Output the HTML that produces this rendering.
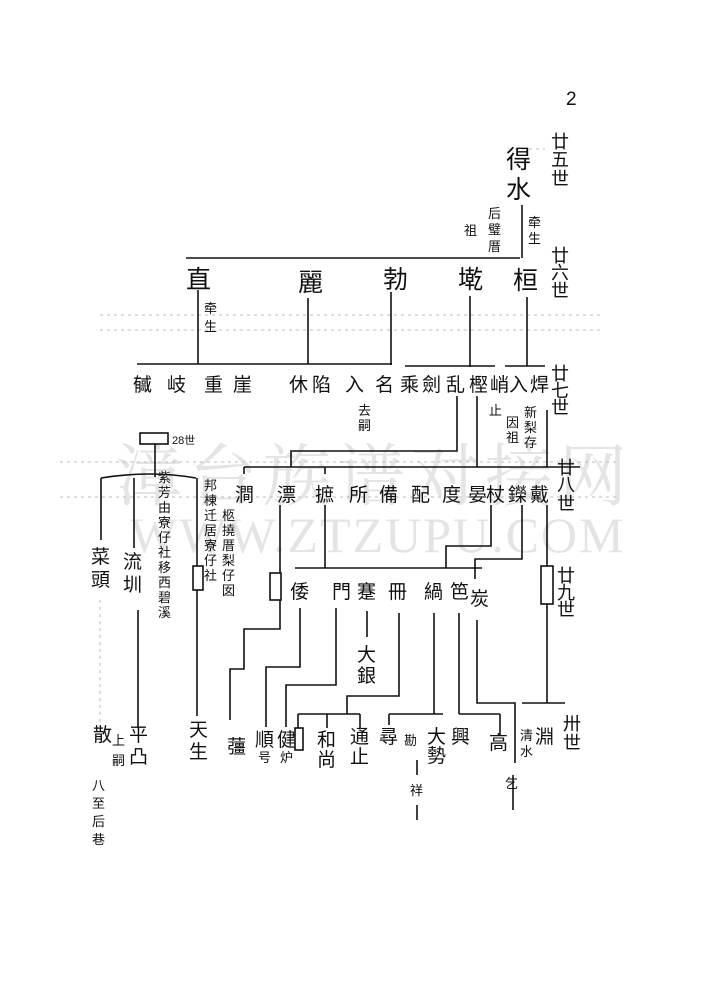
<!DOCTYPE html>
<html><head><meta charset="utf-8"><style>
html,body{margin:0;padding:0;background:#fff;}
svg{display:block;}
text{font-family:"Liberation Sans","Noto Sans CJK SC",sans-serif;fill:#111;}
.b{font-size:25px;}
.s{font-size:13px;}
.m{font-size:19px;}
.g{font-size:18px;}
.wm{fill:#e4e4e4;font-family:"Liberation Serif","Noto Serif CJK SC",serif;}
</style></head><body>
<svg width="703" height="1000" viewBox="0 0 703 1000" xmlns="http://www.w3.org/2000/svg">
<text class="wm" x="115" y="500" font-size="68" letter-spacing="6">漳台族谱对接网</text>
<text class="wm" x="130" y="552" font-size="50" letter-spacing="2">WWW.ZTZUPU.COM</text>

<g stroke="#bbb" stroke-width="1" stroke-dasharray="3,4" fill="none">
<line x1="100" y1="315" x2="600" y2="315"/>
<line x1="100" y1="330" x2="600" y2="330"/>
<line x1="60" y1="462" x2="620" y2="462"/>
<line x1="60" y1="497" x2="620" y2="497"/>
<line x1="508" y1="149" x2="545" y2="149"/>
<line x1="100" y1="600" x2="100" y2="725"/>
</g>

<g stroke="#111" stroke-width="1.6" fill="none">
<line x1="522" y1="205" x2="522" y2="258"/>
<line x1="186" y1="258" x2="520" y2="258"/>
<line x1="198" y1="290" x2="198" y2="364"/>
<line x1="308" y1="298" x2="308" y2="364"/>
<line x1="391" y1="292" x2="391" y2="365"/>
<line x1="470" y1="296" x2="470" y2="367"/>
<line x1="527" y1="297" x2="527" y2="366"/>
<line x1="137" y1="364" x2="392" y2="364"/>
<line x1="405" y1="366" x2="495" y2="366"/>
<line x1="505" y1="366" x2="545" y2="366"/>
<polyline points="457,396 457,451 291,451 291,467"/>
<line x1="477" y1="396" x2="477" y2="467"/>
<line x1="547" y1="410" x2="547" y2="467"/>
<line x1="244" y1="467" x2="580" y2="467"/>
<line x1="244" y1="467" x2="244" y2="474"/>
<line x1="325" y1="467" x2="325" y2="474"/>
<rect x="140" y="433" width="28" height="11"/>
<line x1="155" y1="444" x2="155" y2="477"/>
<path d="M101,478 Q150,470 196,478"/>
<line x1="101" y1="478" x2="101" y2="540"/>
<line x1="134" y1="478" x2="134" y2="548"/>
<line x1="138" y1="610" x2="138" y2="727"/>
<line x1="197" y1="478" x2="197" y2="716"/>
<rect x="193" y="566" width="10" height="24" fill="#fff"/>
<line x1="325" y1="505" x2="325" y2="568"/>
<line x1="295" y1="568" x2="482" y2="568"/>
<polyline points="491,505 491,546 446,546 446,568"/>
<polyline points="522,505 522,559 475,559 475,579"/>
<polyline points="280,505 280,573"/>
<rect x="270" y="573" width="11" height="27"/>
<polyline points="280,600 280,629 244,629 244,669 230,669 230,720"/>
<polyline points="300,608 300,667 266,667 266,727"/>
<polyline points="336,608 336,685 286,685 286,727"/>
<line x1="367" y1="611" x2="367" y2="637"/>
<polyline points="399,613 399,696 347,696 347,714"/>
<line x1="298" y1="714" x2="360" y2="714"/>
<line x1="298" y1="714" x2="298" y2="728"/>
<line x1="327" y1="714" x2="327" y2="728"/>
<line x1="360" y1="714" x2="360" y2="728"/>
<rect x="295" y="728" width="8" height="22"/>
<line x1="434" y1="613" x2="434" y2="714"/>
<line x1="389" y1="714" x2="443" y2="714"/>
<line x1="389" y1="714" x2="389" y2="725"/>
<line x1="459" y1="613" x2="459" y2="714"/>
<line x1="459" y1="714" x2="500" y2="714"/>
<line x1="500" y1="714" x2="500" y2="735"/>
<polyline points="477,620 477,703 515,703 515,763"/>
<line x1="513" y1="775" x2="513" y2="810"/>
<line x1="417" y1="760" x2="417" y2="775"/>
<line x1="417" y1="805" x2="417" y2="820"/>
<line x1="547" y1="505" x2="547" y2="566"/>
<rect x="541" y="566" width="12" height="38"/>
<line x1="547" y1="604" x2="547" y2="703"/>
<line x1="522" y1="703" x2="565" y2="703"/>
</g>

<text x="566" y="105" class="m">2</text>

<g class="g">
<text x="551" y="148">廿</text><text x="551" y="166">五</text><text x="551" y="185">世</text>
<text x="551" y="262">廿</text><text x="551" y="279">六</text><text x="551" y="297">世</text>
<text x="551" y="380">廿</text><text x="551" y="397">七</text><text x="551" y="414">世</text>
<text x="557" y="474">廿</text><text x="557" y="491">八</text><text x="557" y="510">世</text>
<text x="557" y="582">廿</text><text x="557" y="599">九</text><text x="557" y="616">世</text>
<text x="563" y="730">卅</text><text x="563" y="749">世</text>
</g>

<text class="b" x="506" y="168">得</text>
<text class="b" x="506" y="198">水</text>
<g class="s">
<text x="528" y="227">牵</text><text x="528" y="243">生</text>
<text x="488" y="218">后</text><text x="488" y="234">璧</text><text x="488" y="251">厝</text>
<text x="464" y="235">祖</text>
</g>

<g class="b">
<text x="186" y="288">直</text>
<text x="298" y="291">麗</text>
<text x="383" y="288">勃</text>
<text x="458" y="288">墘</text>
<text x="513" y="289">桓</text>
</g>
<g class="s"><text x="204" y="313">牵</text><text x="204" y="331">生</text></g>

<g class="m">
<text x="133" y="391">㦽</text><text x="167" y="391">岐</text><text x="204" y="391">重</text><text x="233" y="391">崖</text>
<text x="289" y="391">休</text><text x="312" y="391">陷</text><text x="345" y="391">入</text><text x="375" y="391">名</text>
<text x="400" y="391">乘</text><text x="422" y="391">劍</text><text x="446" y="391">乱</text><text x="469" y="391">樫</text>
<text x="490" y="391">峭</text><text x="509" y="391">入</text><text x="530" y="391">焊</text>
</g>
<g class="s">
<text x="358" y="415">去</text><text x="358" y="430">嗣</text>
<text x="489" y="415">止</text>
<text x="506" y="427">因</text><text x="506" y="442">祖</text>
<text x="524" y="417">新</text><text x="524" y="432">梨</text><text x="524" y="447">存</text>
<text x="172" y="444" font-size="11">28世</text>
</g>

<g class="m">
<text x="235" y="501">澗</text><text x="277" y="501">漂</text><text x="315" y="501">摭</text><text x="349" y="501">所</text>
<text x="379" y="501">備</text><text x="411" y="501">配</text><text x="442" y="501">度</text><text x="468" y="501">晏</text>
<text x="486" y="501">杖</text><text x="508" y="501">鑅</text><text x="530" y="501">戴</text>
</g>
<g class="s">
<text x="158" y="482">紫</text><text x="158" y="497">芳</text><text x="158" y="512">由</text><text x="158" y="527">寮</text><text x="158" y="542">仔</text><text x="158" y="557">社</text><text x="158" y="572">移</text><text x="158" y="587">西</text><text x="158" y="602">碧</text><text x="158" y="617">溪</text>
<text x="204" y="490">邦</text><text x="204" y="505">棟</text><text x="204" y="520">迁</text><text x="204" y="535">居</text><text x="204" y="550">寮</text><text x="204" y="565">仔</text><text x="204" y="580">社</text>
<text x="222" y="520">柩</text><text x="222" y="535">撓</text><text x="222" y="550">厝</text><text x="222" y="565">梨</text><text x="222" y="580">仔</text><text x="222" y="595">囡</text>
</g>
<g class="m">
<text x="91" y="563">菜</text><text x="91" y="586">頭</text>
<text x="123" y="568">流</text><text x="123" y="591">圳</text>
</g>

<g class="m">
<text x="290" y="598">倭</text><text x="332" y="598">門</text><text x="357" y="598">蹇</text><text x="388" y="598">冊</text>
<text x="424" y="598">緺</text><text x="450" y="598">笆</text><text x="470" y="605">炭</text>
<text x="357" y="661">大</text><text x="357" y="682">銀</text>
</g>

<g class="m">
<text x="93" y="741">散</text>
<text x="129" y="741">平</text><text x="129" y="763">凸</text>
<text x="189" y="736">天</text><text x="189" y="758">生</text>
<text x="227" y="753">䕬</text>
<text x="255" y="746">順</text>
<text x="277" y="746">健</text>
<text x="317" y="746">和</text><text x="317" y="766">尚</text>
<text x="350" y="743">通</text><text x="350" y="763">止</text>
<text x="379" y="743">尋</text>
<text x="427" y="743">大</text><text x="427" y="762">勢</text>
<text x="451" y="743">興</text>
<text x="489" y="749">高</text>
<text x="535" y="743">淵</text>
</g>
<g class="s">
<text x="112" y="745">上</text><text x="112" y="765">嗣</text>
<text x="92" y="790">八</text><text x="92" y="808">至</text><text x="92" y="826">后</text><text x="92" y="844">巷</text>
<text x="258" y="762">号</text><text x="280" y="762">炉</text>
<text x="404" y="745">勘</text>
<text x="410" y="795">祥</text>
<text x="505" y="788">乞</text>
<text x="520" y="740">清</text><text x="520" y="756">水</text>
</g>
</svg>
</body></html>
